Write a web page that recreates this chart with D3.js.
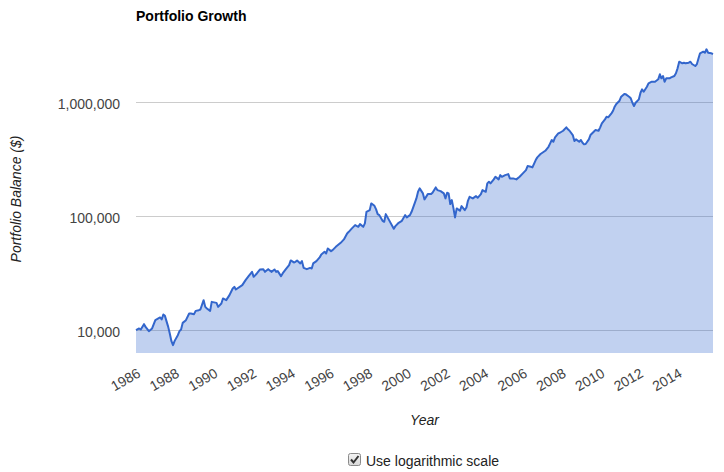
<!DOCTYPE html>
<html><head><meta charset="utf-8">
<script src="https://cdn.jsdelivr.net/npm/d3@7"></script>
<style>
html,body{margin:0;padding:0;background:#fff;}
svg{display:block;font-family:Arial,"Liberation Sans",sans-serif;}
</style></head><body>
<svg id="chart" width="724" height="472"></svg>
<script>
const months = [
"1986-01","1986-03","1986-04","1986-06","1986-07","1986-09","1986-11",
"1987-01","1987-04","1987-05","1987-06","1987-07","1987-09","1987-10","1987-11","1987-12",
"1988-01","1988-03","1988-04","1988-05","1988-06","1988-08","1988-10","1988-11",
"1989-01","1989-02","1989-04","1989-05","1989-07","1989-08","1989-09","1989-11","1989-12",
"1990-03","1990-04","1990-06","1990-07","1990-09","1990-11",
"1991-01","1991-02","1991-03","1991-07","1991-09","1991-11",
"1992-01","1992-02","1992-04","1992-06","1992-08","1992-09","1992-11",
"1993-01","1993-03","1993-04","1993-05","1993-07","1993-08","1993-10","1993-12",
"1994-01","1994-03","1994-04","1994-05","1994-07","1994-08","1994-09","1994-11",
"1995-01","1995-02","1995-03","1995-05","1995-07","1995-08","1995-10","1995-11","1995-12",
"1996-02","1996-03","1996-05","1996-08","1996-10","1996-12",
"1997-01","1997-03","1997-05","1997-07","1997-08","1997-10","1997-11","1997-12",
"1998-02","1998-03","1998-05","1998-06","1998-07","1998-08","1998-10","1998-11","1998-12",
"1999-02","1999-05","1999-06","1999-08","1999-10","1999-12",
"2000-01","2000-03","2000-04","2000-06","2000-07","2000-08","2000-09","2000-11","2000-12",
"2001-02","2001-04","2001-05","2001-07","2001-08","2001-10","2001-12",
"2002-01","2002-02","2002-03","2002-04","2002-05","2002-06","2002-07","2002-08","2002-10","2002-11",
"2003-01","2003-02","2003-03","2003-04","2003-06","2003-08","2003-09","2003-11","2003-12",
"2004-02","2004-03","2004-04","2004-05","2004-07","2004-08","2004-10","2004-11","2004-12",
"2005-02","2005-04","2005-05","2005-07","2005-09","2005-11",
"2006-01","2006-03","2006-04","2006-06","2006-07","2006-09","2006-10","2006-12",
"2007-02","2007-03","2007-05","2007-06","2007-07","2007-08","2007-09","2007-11","2007-12",
"2008-02","2008-04","2008-05","2008-06","2008-08","2008-09","2008-10","2008-12",
"2009-01","2009-02","2009-03","2009-04","2009-06","2009-07","2009-09","2009-10","2009-12",
"2010-01","2010-02","2010-04","2010-05","2010-06","2010-08","2010-09","2010-10","2010-11",
"2011-01","2011-02","2011-04","2011-05","2011-07","2011-08","2011-09","2011-10","2011-11",
"2012-01","2012-02","2012-03","2012-04","2012-06","2012-07","2012-09","2012-11",
"2013-01","2013-02","2013-03","2013-04","2013-05","2013-06","2013-08","2013-09","2013-11","2013-12",
"2014-01","2014-02","2014-04","2014-05","2014-06","2014-08","2014-09","2014-10","2014-12",
"2015-01","2015-02","2015-03","2015-05","2015-06","2015-07","2015-08","2015-10","2015-11"
];
const balance = [
10000,10350,10140,11290,10690,9800,10350,
12240,12920,12410,13730,13350,10690,9360,8010,7390,
8060,9040,9800,10140,11590,12240,14010,14010,
13820,14770,14980,15190,18330,16010,15500,14770,17710,
17360,16010,17150,18970,18330,20280,
23220,23980,22750,24820,27460,29950,
32460,29350,31430,34080,34280,32460,34280,
32460,34080,32460,32930,29760,31430,34280,37170,
40870,39250,39730,40870,38470,40300,35200,34280,
35200,34770,38470,40300,43420,46140,48620,47080,52080,
49310,50300,53790,58320,62460,70510,
72830,78000,83370,80560,85080,80560,86290,109100,
112900,129200,123100,114500,104100,102000,90940,89120,104100,
92240,77370,81710,87340,90940,102000,
97410,102000,109100,130800,143000,163400,175000,158200,140100,
155900,155900,160100,178500,169100,165700,158200,
143000,160100,158200,127400,138100,116800,97410,116800,111300,122400,
112900,119200,136200,147700,143000,149800,144700,155900,169100,
163400,193600,199900,193600,209900,221200,209900,228900,221200,
228900,233600,214100,214100,209900,221200,
236900,253200,274600,270700,267400,310000,327300,350000,
366500,374000,405400,434200,464200,448600,490300,531500,538000,
560100,599900,576200,560100,513500,454800,470800,448600,
464200,439600,425700,428200,470800,513500,548900,568000,560100,
599900,650300,705000,743100,734200,795900,838800,909400,960400,
1027000,1113000,1175000,1168000,1113000,1078000,986000,922500,986000,
1056000,1207000,1293000,1231000,1362000,1459000,1507000,1507000,
1582000,1750000,1614000,1691000,1507000,1614000,1614000,1647000,1691000,1786000,
1975000,2257000,2185000,2212000,2185000,2212000,2257000,2154000,2069000,
2154000,2417000,2674000,2762000,2706000,2900000,2706000,2674000,2635000
];
const xTickYears = [1986,1988,1990,1992,1994,1996,1998,2000,2002,2004,2006,2008,2010,2012,2014];
const yTickValues = [10000,100000,1000000];
const chartTitle = "Portfolio Growth";
const xAxisTitle = "Year";
const yAxisTitle = "Portfolio Balance ($)";
const checkboxLabel = "Use logarithmic scale";

const plot = {left:136, right:713, top:45, bottom:353};
const parse = d3.timeParse("%Y-%m");
const data = months.map((m,i)=>({date:parse(m), value:balance[i]}));

const x = d3.scaleTime().domain(d3.extent(data,d=>d.date)).range([plot.left,plot.right]);
const y = d3.scaleLog().domain([Math.pow(10,3.8), Math.pow(10,6.5)]).range([plot.bottom,plot.top]);

const svg = d3.select("#chart");

// title
svg.append("text").attr("x",136).attr("y",20.5)
  .attr("font-size",14).attr("font-weight","bold").attr("fill","#000").text(chartTitle);

// y axis with gridlines
const yAxis = d3.axisLeft(y).tickValues(yTickValues).tickFormat(d3.format(","))
  .tickSizeInner(-(plot.right-plot.left)).tickSizeOuter(0).tickPadding(16);
const gy = svg.append("g").attr("transform",`translate(${plot.left},0)`).call(yAxis);
gy.select(".domain").remove();
gy.selectAll(".tick line").attr("stroke","#cccccc").attr("shape-rendering","crispEdges");
gy.selectAll(".tick text").attr("font-size",14).attr("fill","#444").attr("dy","0.46em")
  .attr("font-family","Arial, 'Liberation Sans', sans-serif");

// area + line
const area = d3.area().x(d=>x(d.date)).y0(plot.bottom).y1(d=>y(d.value));
const line = d3.line().x(d=>x(d.date)).y(d=>y(d.value));
svg.append("path").datum(data).attr("d",area).attr("fill","#3366cc").attr("fill-opacity",0.3);
svg.append("path").datum(data).attr("d",line).attr("fill","none")
  .attr("stroke","#3366cc").attr("stroke-width",2).attr("stroke-linejoin","round");

// x axis
const xAxis = d3.axisBottom(x).tickValues(xTickYears.map(yr=>new Date(yr,0,1)))
  .tickFormat(d3.timeFormat("%Y")).tickSize(0);
const gx = svg.append("g").attr("transform",`translate(0,${plot.bottom})`).call(xAxis);
gx.select(".domain").remove();
gx.selectAll(".tick text").attr("font-size",14).attr("fill","#444")
  .attr("font-family","Arial, 'Liberation Sans', sans-serif")
  .attr("x",0).attr("y",0).attr("dy",0)
  .attr("text-anchor","end")
  .attr("transform","translate(5,23) rotate(-30)");

// axis titles
svg.append("text").attr("x",(plot.left+plot.right)/2).attr("y",425)
  .attr("text-anchor","middle").attr("font-size",14).attr("font-style","italic")
  .attr("fill","#222").text(xAxisTitle);
svg.append("text").attr("transform",`translate(21,${(plot.top+plot.bottom)/2}) rotate(-90)`)
  .attr("text-anchor","middle").attr("font-size",14).attr("font-style","italic")
  .attr("fill","#222").text(yAxisTitle);

// checkbox control
const defs = svg.append("defs");
const grad = defs.append("linearGradient").attr("id","cbg").attr("x1",0).attr("y1",0).attr("x2",0).attr("y2",1);
grad.append("stop").attr("offset","0%").attr("stop-color","#f4f4f4");
grad.append("stop").attr("offset","100%").attr("stop-color","#d8d8d8");
const cb = svg.append("g").attr("transform","translate(348.5,453.5)");
cb.append("rect").attr("width",12).attr("height",12).attr("rx",2)
  .attr("fill","url(#cbg)").attr("stroke","#8a8a8a");
cb.append("path").attr("d","M2.5,6 L5,9 L10,2.5").attr("fill","none")
  .attr("stroke","#333").attr("stroke-width",2);
svg.append("text").attr("x",366).attr("y",466).attr("font-size",14).attr("fill","#222").text(checkboxLabel);
</script>
</body></html>
